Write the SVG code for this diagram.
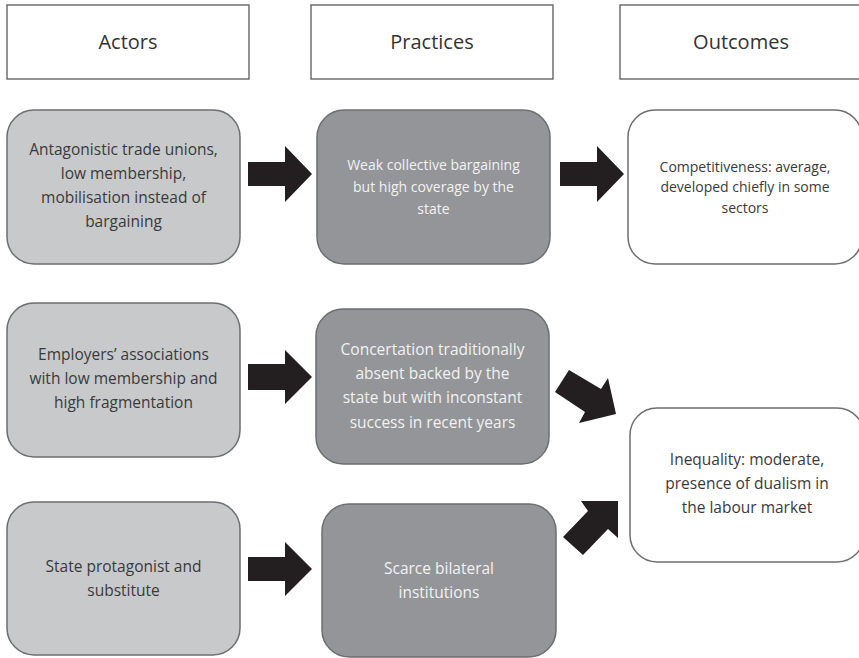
<svg xmlns="http://www.w3.org/2000/svg" width="859" height="658" viewBox="0 0 859 658">
<style>
text{font-family:"Open Sans","Noto Sans","DejaVu Sans",sans-serif;text-anchor:middle}
.hdr rect{fill:#fff;stroke:#58595b;stroke-width:1.3}
.hdr text{font-size:20px;fill:#333}
.act rect{fill:#c8c9cb;stroke:#6d6e71;stroke-width:1.5}
.act text{font-size:15.5px;fill:#3a3a3a}
.prc rect{fill:#939598;stroke:#6d6e71;stroke-width:1.5}
.prc text{font-size:15.5px;fill:#f2f2f2}
.out rect{fill:#fff;stroke:#6d6e71;stroke-width:1.5}
.out text{font-size:15.5px;fill:#3a3a3a}
.arrows polygon{fill:#231f20}
</style>
<rect width="859" height="658" fill="#fff"/>
<g id="hdr-actors" class="hdr"><rect x="7" y="5" width="242" height="74"/><text x="128" y="49">Actors</text></g>
<g id="hdr-practices" class="hdr"><rect x="311" y="5" width="242" height="74"/><text x="432" y="49">Practices</text></g>
<g id="hdr-outcomes" class="hdr"><rect x="620" y="5" width="242" height="74"/><text x="741" y="49">Outcomes</text></g>

<g id="actor1" class="act"><rect x="7" y="110" width="233" height="154" rx="27"/>
<text x="123.5" y="155">Antagonistic trade unions,</text><text x="123.5" y="179">low membership,</text><text x="123.5" y="203">mobilisation instead of</text><text x="123.5" y="227">bargaining</text></g>
<g id="actor2" class="act"><rect x="7" y="303" width="233" height="154" rx="27"/>
<text x="123.5" y="360">Employers’ associations</text><text x="123.5" y="384">with low membership and</text><text x="123.5" y="408">high fragmentation</text></g>
<g id="actor3" class="act"><rect x="7" y="502" width="233" height="153" rx="27"/>
<text x="123.5" y="572">State protagonist and</text><text x="123.5" y="596">substitute</text></g>

<g id="practice1" class="prc"><rect x="317" y="110" width="233" height="154" rx="27"/>
<text x="433.5" y="170" style="font-size:14px">Weak collective bargaining</text><text x="433.5" y="192" style="font-size:14px">but high coverage by the</text><text x="433.5" y="214" style="font-size:14px">state</text></g>
<g id="practice2" class="prc"><rect x="316" y="309" width="233" height="155" rx="27"/>
<text x="432.5" y="355">Concertation traditionally</text><text x="432.5" y="379">absent backed by the</text><text x="432.5" y="403">state but with inconstant</text><text x="432.5" y="428">success in recent years</text></g>
<g id="practice3" class="prc"><rect x="322" y="504" width="234" height="153" rx="27"/>
<text x="439" y="574">Scarce bilateral</text><text x="439" y="598">institutions</text></g>

<g id="outcome1" class="out"><rect x="628" y="110" width="234" height="154" rx="27"/>
<text x="745" y="172" style="font-size:14px">Competitiveness: average,</text><text x="745" y="192" style="font-size:14px">developed chiefly in some</text><text x="745" y="213" style="font-size:14px">sectors</text></g>
<g id="outcome2" class="out"><rect x="630" y="408" width="234" height="154" rx="27"/>
<text x="747" y="465">Inequality: moderate,</text><text x="747" y="489">presence of dualism in</text><text x="747" y="513">the labour market</text></g>

<g id="connectors" class="arrows">
<polygon points="248,162 285,162 285,146 312,174 285,202 285,186 248,186"/>
<polygon points="560,162 597,162 597,146 624,174 597,202 597,186 560,186"/>
<polygon points="248,364 285,364 285,350 312,377 285,404 285,390 248,390"/>
<polygon points="248,557 285,557 285,542 312,569 285,596 285,581 248,581"/>
<polygon points="569,370 601,389 608,378 616,414 579,423 585,412 555,392"/>
<polygon points="563,537 588,511 581,501 618,501 618,538 608,529 583,555"/>
</g>
</svg>
